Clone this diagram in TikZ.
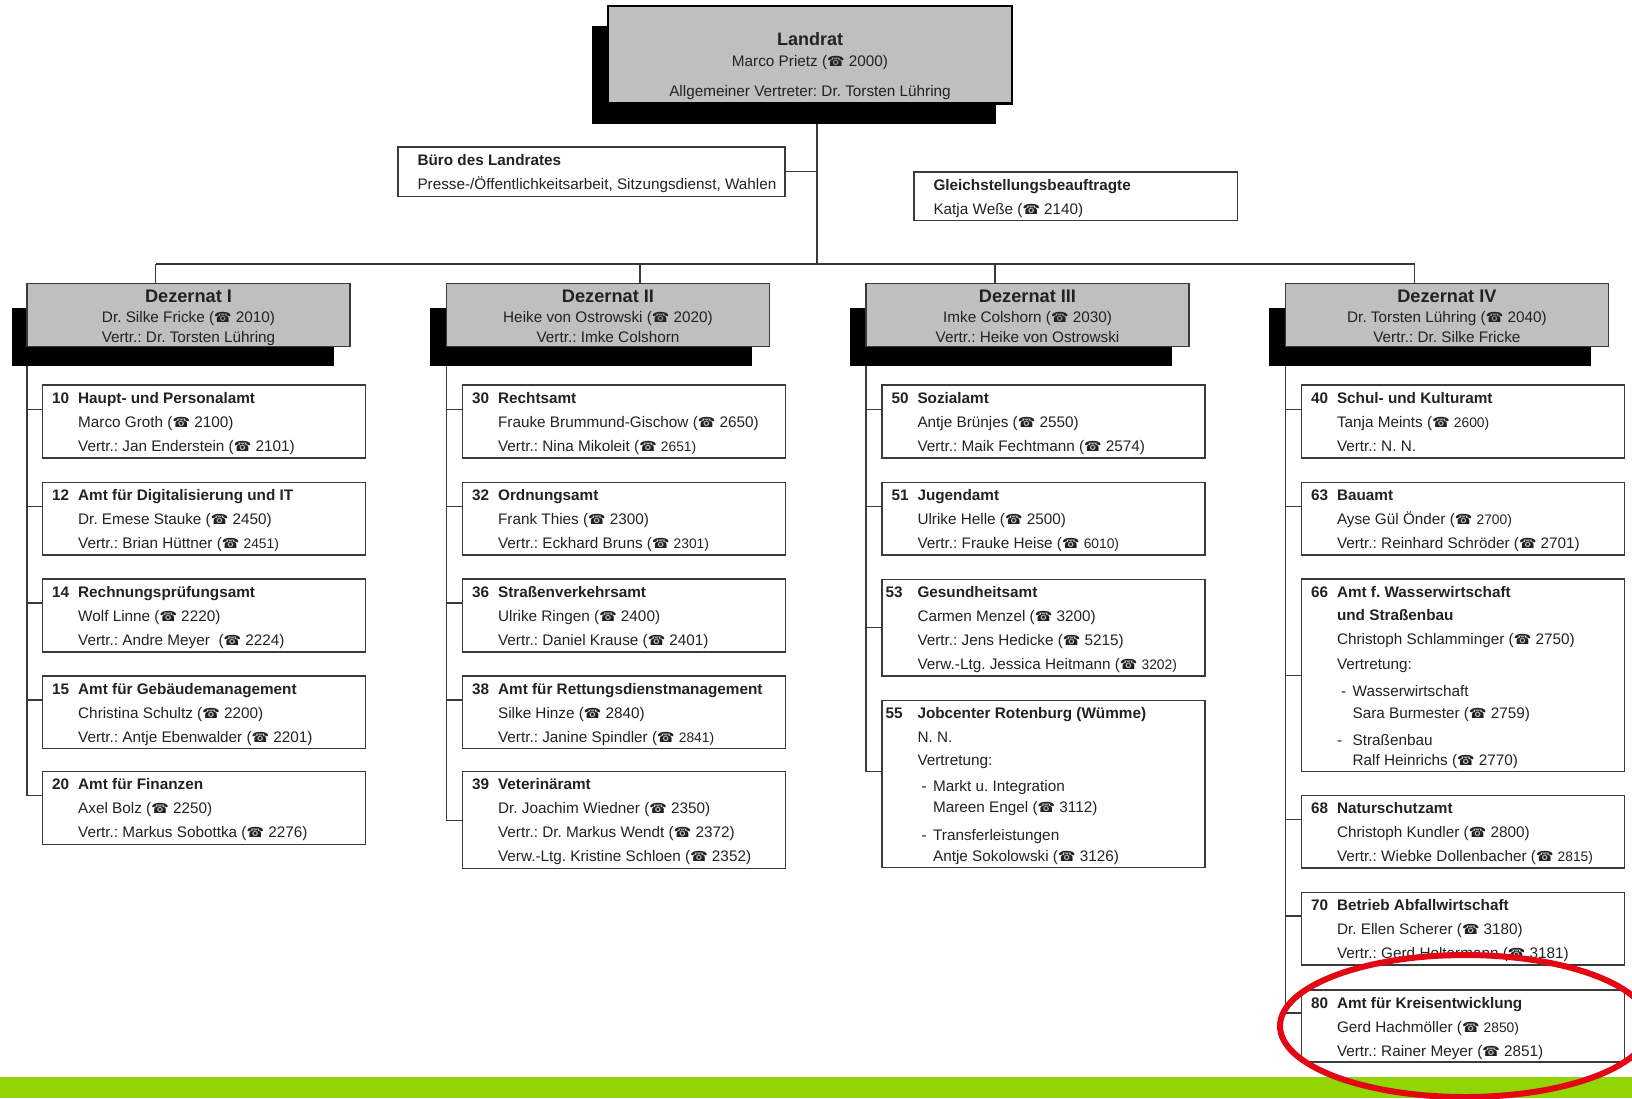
\documentclass[tikz,border=0pt]{standalone}
\usepackage{fontspec}
\setmainfont{Liberation Sans}
\newfontfamily\phonefont{DejaVu Sans}
\frenchspacing
\definecolor{dezgray}{HTML}{BFBFBF}
\definecolor{linegray}{HTML}{3A3A3A}
\definecolor{textgray}{HTML}{222222}
\definecolor{bandgreen}{HTML}{93D500}
\definecolor{ringred}{HTML}{E30613}
\newcommand{\phon}{{\phonefont\fontsize{14}{12}\selectfont ☎}}
\newcommand{\tel}[1]{(\phon~#1)}
\newcommand{\stel}[1]{(\phon~{\fontsize{13.8}{24}\selectfont #1)}}
\newcommand{\strich}[1]{\makebox[15.6pt][l]{\hspace*{4pt}-}#1}
\newcommand{\einr}{\hspace*{15.6pt}}
\newcommand{\amt}[5][26pt]{\parbox[t][#2pt][t]{323pt}{\raggedright\setlength{\leftskip}{35.5pt}%
  \rule{0pt}{18pt}\hspace*{-#1}\makebox[#1][l]{\textbf{#3}}\textbf{#4}\\#5}}
\newcommand{\dez}[3]{\parbox[t][63pt][t]{323pt}{\centering\fontsize{15.3}{20}\selectfont
  \rule{0pt}{19pt}{\fontsize{18.2}{20}\selectfont\bfseries #1}\\#2\\#3}}
\newcommand{\stab}[4]{\parbox[t][#1pt][t]{#2pt}{\raggedright\setlength{\leftskip}{19.5pt}%
  \rule{0pt}{18pt}\textbf{#3}\\#4}}

\begin{document}
\begin{tikzpicture}[x=1pt,y=-1pt,
  shadow node/.style={fill=black,anchor=north west,inner sep=0pt,outer sep=0pt,minimum height=58.5pt,minimum width=322pt},
  chef node/.style={draw=black,fill=dezgray,line width=2.5pt,anchor=north west,inner sep=0pt,outer sep=0pt,text=textgray,font=\fontsize{15.3}{24}\selectfont},
  dez node/.style={draw=linegray,fill=dezgray,line width=1.4pt,anchor=north west,inner sep=0pt,outer sep=0pt,text=textgray},
  amt node/.style={draw=linegray,fill=white,line width=1.4pt,anchor=north west,inner sep=0pt,outer sep=0pt,text=textgray,font=\fontsize{15.3}{24}\selectfont},
  link/.style={draw=linegray,line width=1.3pt}]

  \path[use as bounding box,clip] (0,0) rectangle (1632,1098);

  % Landrat
  \node[shadow node,minimum width=403.5pt,minimum height=97.5pt] (s0) at (592,26) {};
  \node[chef node] (chef) at (608,6) {\parbox[t][97.5pt][t]{404pt}{\centering
    \rule{0pt}{39pt}{\fontsize{18}{24}\selectfont\bfseries Landrat}\\[-3pt]
    Marco Prietz \tel{2000}\\[6pt]
    Allgemeiner Vertreter: Dr. Torsten Lühring}};
  \node[amt node] (buero) at (398,147) {\stab{49.5}{387}{Büro des Landrates}{Presse-/Öffentlichkeitsarbeit, Sitzungsdienst, Wahlen}};
  \node[amt node] (gleich) at (914,172) {\stab{48.7}{323.5}{Gleichstellungsbeauftragte}{Katja Weße \tel{2140}}};

  % Dezernate
  \node[shadow node] (s1) at (11.5,307.7) {};
  \node[shadow node] (s2) at (430,307.7) {};
  \node[shadow node] (s3) at (850,307.7) {};
  \node[shadow node] (s4) at (1269,307.7) {};
  \node[dez node] (d1) at (27,283.5) {\dez{Dezernat I}{Dr. Silke Fricke \tel{2010}}{Vertr.: Dr. Torsten Lühring}};
  \node[dez node] (d2) at (446.5,283.5) {\dez{Dezernat II}{Heike von Ostrowski \tel{2020}}{Vertr.: Imke Colshorn}};
  \node[dez node] (d3) at (866,283.5) {\dez{Dezernat III}{Imke Colshorn \tel{2030}}{Vertr.: Heike von Ostrowski}};
  \node[dez node] (d4) at (1285.4,283.5) {\dez{Dezernat IV}{Dr. Torsten Lühring \tel{2040}}{Vertr.: Dr. Silke Fricke}};

  % Dezernat I
  \node[amt node] (a10) at (42.7,385) {\amt{73}{10}{Haupt- und Personalamt}{Marco Groth \tel{2100}\\Vertr.: Jan Enderstein \tel{2101}}};
  \node[amt node] (a12) at (42.7,482.3) {\amt{72.7}{12}{Amt für Digitalisierung und IT}{Dr. Emese Stauke \tel{2450}\\Vertr.: Brian Hüttner \stel{2451}}};
  \node[amt node] (a14) at (42.7,579) {\amt{73}{14}{Rechnungsprüfungsamt}{Wolf Linne \tel{2220}\\Vertr.: Andre Meyer ~\tel{2224}}};
  \node[amt node] (a15) at (42.7,676) {\amt{72.7}{15}{Amt für Gebäudemanagement}{Christina Schultz \tel{2200}\\Vertr.: Antje Ebenwalder \tel{2201}}};
  \node[amt node] (a20) at (42.7,771.7) {\amt{72.6}{20}{Amt für Finanzen}{Axel Bolz \tel{2250}\\Vertr.: Markus Sobottka \tel{2276}}};

  % Dezernat II
  \node[amt node] (a30) at (462.6,385) {\amt{73}{30}{Rechtsamt}{Frauke Brummund-Gischow \tel{2650}\\Vertr.: Nina Mikoleit \stel{2651}}};
  \node[amt node] (a32) at (462.6,482.3) {\amt{72.7}{32}{Ordnungsamt}{Frank Thies \tel{2300}\\Vertr.: Eckhard Bruns \stel{2301}}};
  \node[amt node] (a36) at (462.6,579) {\amt{73}{36}{Straßenverkehrsamt}{Ulrike Ringen \tel{2400}\\Vertr.: Daniel Krause \tel{2401}}};
  \node[amt node] (a38) at (462.6,676) {\amt{72.7}{38}{Amt für Rettungsdienstmanagement}{Silke Hinze \tel{2840}\\Vertr.: Janine Spindler \stel{2841}}};
  \node[amt node] (a39) at (462.6,771.7) {\amt{96.6}{39}{Veterinäramt}{Dr. Joachim Wiedner \tel{2350}\\Vertr.: Dr. Markus Wendt \tel{2372}\\Verw.-Ltg. Kristine Schloen \tel{2352}}};

  % Dezernat III
  \node[amt node] (a50) at (882,385) {\amt{73}{50}{Sozialamt}{Antje Brünjes \tel{2550}\\Vertr.: Maik Fechtmann \tel{2574}}};
  \node[amt node] (a51) at (882,482.3) {\amt{72.7}{51}{Jugendamt}{Ulrike Helle \tel{2500}\\Vertr.: Frauke Heise \stel{6010}}};
  \node[amt node] (a53) at (882,579.3) {\amt[32pt]{96.7}{53}{Gesundheitsamt}{Carmen Menzel \tel{3200}\\Vertr.: Jens Hedicke \tel{5215}\\Verw.-Ltg. Jessica Heitmann \stel{3202}}};
  \node[amt node] (a55) at (882,700.7) {\amt[32pt]{167}{55}{Jobcenter Rotenburg (Wümme)}{N. N.\\[-1.5pt]Vertretung:\\[2pt]\strich{Markt u. Integration}\\[-2.5pt]\einr Mareen Engel \tel{3112}\\[4pt]\strich{Transferleistungen}\\[-3pt]\einr Antje Sokolowski \tel{3126}}};

  % Dezernat IV
  \node[amt node] (a40) at (1301.5,385) {\amt{73}{40}{Schul- und Kulturamt}{Tanja Meints \stel{2600}\\Vertr.: N. N.}};
  \node[amt node] (a63) at (1301.5,482.3) {\amt{72.7}{63}{Bauamt}{Ayse Gül Önder \stel{2700}\\Vertr.: Reinhard Schröder \tel{2701}}};
  \node[amt node] (a66) at (1301.5,579) {\amt{192.7}{66}{Amt f. Wasserwirtschaft\\[-0.5pt]\textbf{und Straßenbau}}{Christoph Schlamminger \tel{2750}\\[1pt]Vertretung:\\[3pt]\strich{Wasserwirtschaft}\\[-2.5pt]\einr Sara Burmester \tel{2759}\\[3pt]\makebox[15.6pt][l]{-}Straßenbau\\[-4pt]\einr Ralf Heinrichs \tel{2770}}};
  \node[amt node] (a68) at (1301.5,795.3) {\amt{72.7}{68}{Naturschutzamt}{Christoph Kundler \tel{2800}\\Vertr.: Wiebke Dollenbacher \stel{2815}}};
  \node[amt node] (a70) at (1301.5,892.7) {\amt{72.3}{70}{Betrieb Abfallwirtschaft}{Dr. Ellen Scherer \tel{3180}\\Vertr.: Gerd Holtermann \tel{3181}}};
  \node[amt node] (a80) at (1301.5,990) {\amt{72}{80}{Amt für Kreisentwicklung}{Gerd Hachmöller \stel{2850}\\Vertr.: Rainer Meyer \tel{2851}}};

  % Linien oben
  \coordinate (top) at (817,123.5);
  \coordinate (bus) at (817,264);
  \coordinate (bus1) at (155.6,264);
  \coordinate (bus2) at (640,264);
  \coordinate (bus3) at (995,264);
  \coordinate (bus4) at (1414.5,264);
  \draw[link] (top) -- (bus);
  \draw[link] (buero.east) -- (buero.east -| top);
  \draw[link] (bus1) -- (bus4);
  \draw[link] (bus1) -- (bus1 |- d1.north);
  \draw[link] (bus2) -- (bus2 |- d2.north);
  \draw[link] (bus3) -- (bus3 |- d3.north);
  \draw[link] (bus4) -- (bus4 |- d4.north);

  % Linien zu den Aemtern
  \draw[link] (d1.west |- s1.south) |- ([yshift=-24.5pt]a10.north west);
  \draw[link] (d1.west |- s1.south) |- ([yshift=-24pt]a12.north west);
  \draw[link] (d1.west |- s1.south) |- ([yshift=-24pt]a14.north west);
  \draw[link] (d1.west |- s1.south) |- ([yshift=-24pt]a15.north west);
  \draw[link] (d1.west |- s1.south) |- ([yshift=-24pt]a20.north west);
  \draw[link] (d2.west |- s2.south) |- ([yshift=-24.5pt]a30.north west);
  \draw[link] (d2.west |- s2.south) |- ([yshift=-24pt]a32.north west);
  \draw[link] (d2.west |- s2.south) |- ([yshift=-24pt]a36.north west);
  \draw[link] (d2.west |- s2.south) |- ([yshift=-24pt]a38.north west);
  \draw[link] (d2.west |- s2.south) |- ([yshift=-48.5pt]a39.north west);
  \draw[link] (d3.west |- s3.south) |- ([yshift=-24.5pt]a50.north west);
  \draw[link] (d3.west |- s3.south) |- ([yshift=-24pt]a51.north west);
  \draw[link] (d3.west |- s3.south) |- ([yshift=-48.5pt]a53.north west);
  \draw[link] (d3.west |- s3.south) |- ([yshift=-70.5pt]a55.north west);
  \draw[link] (d4.west |- s4.south) |- ([yshift=-24.5pt]a40.north west);
  \draw[link] (d4.west |- s4.south) |- ([yshift=-24pt]a63.north west);
  \draw[link] (d4.west |- s4.south) |- ([yshift=-96.5pt]a66.north west);
  \draw[link] (d4.west |- s4.south) |- ([yshift=-24pt]a68.north west);
  \draw[link] (d4.west |- s4.south) |- ([yshift=-23.3pt]a70.north west);
  \draw[link] (d4.west |- s4.south) |- ([yshift=-23pt]a80.north west);

  % Band und Ring
  \fill[bandgreen] (0,1077) rectangle (1632,1098);
  \draw[ringred,line width=6pt] (1465,1026) ellipse [x radius=185,y radius=71];
\end{tikzpicture}
\end{document}
